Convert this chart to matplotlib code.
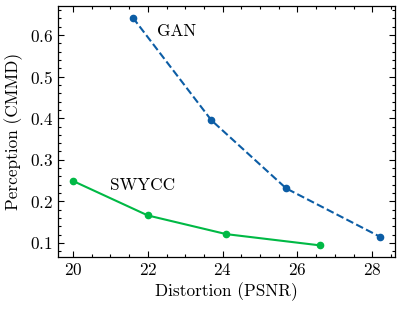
import matplotlib
matplotlib.use("Agg")
import matplotlib.pyplot as plt
from matplotlib.ticker import MultipleLocator

plt.rcParams['font.family'] = 'serif'
plt.rcParams['font.serif'] = ['cmr10', 'DejaVu Serif']
plt.rcParams['mathtext.fontset'] = 'cm'
plt.rcParams['axes.formatter.use_mathtext'] = True

gan_psnr = [21.6, 23.7, 25.7, 28.2]
gan_cmmd = [0.642, 0.395, 0.231, 0.115]
swycc_psnr = [20.0, 22.0, 24.1, 26.6]
swycc_cmmd = [0.249, 0.166, 0.121, 0.094]

fs = 12.4

fig = plt.figure(figsize=(4.02, 3.09), dpi=100)
ax = fig.add_axes([58/402, (309-257)/309, (395.5-58)/402, (257-6)/309])

ax.plot(gan_psnr, gan_cmmd, color='#0C5DA5', linestyle='--', linewidth=1.5,
        marker='o', markersize=4.5)
ax.plot(swycc_psnr, swycc_cmmd, color='#00B945', linestyle='-', linewidth=1.5,
        marker='o', markersize=4.5)

ax.text(22.25, 0.61, 'GAN', fontsize=fs, va='center', ha='left')
ax.text(21.0, 0.239, 'SWYCC', fontsize=fs, va='center', ha='left')

ax.set_xlim(19.6, 28.62)
ax.set_ylim(0.066, 0.670)
ax.xaxis.set_major_locator(MultipleLocator(2))
ax.xaxis.set_minor_locator(MultipleLocator(0.5))
ax.yaxis.set_major_locator(MultipleLocator(0.1))
ax.yaxis.set_minor_locator(MultipleLocator(0.02))
ax.tick_params(which='both', direction='in', top=True, right=True, labelsize=fs, width=0.8)
ax.tick_params(which='major', length=4)
ax.tick_params(which='minor', length=2)
for s in ax.spines.values():
    s.set_linewidth(0.9)

ax.set_xlabel('Distortion (PSNR)', fontsize=fs, labelpad=3)
ax.set_ylabel('Perception (CMMD)', fontsize=fs, labelpad=5)

fig.savefig('out.png', dpi=100)
